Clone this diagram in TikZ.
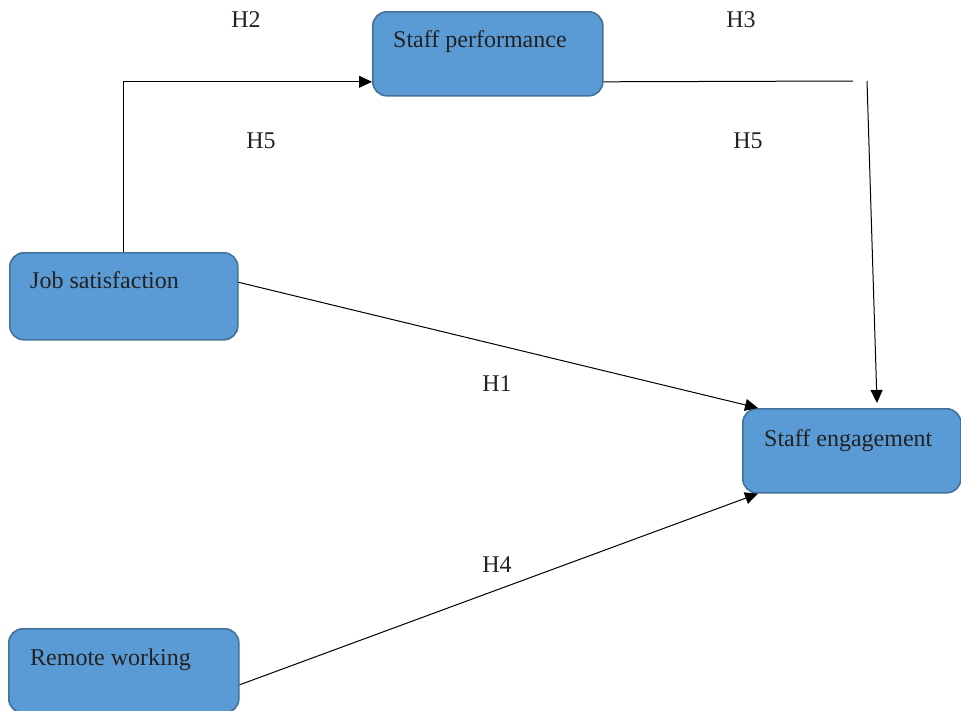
\documentclass[tikz,border=0pt]{standalone}
\usepackage{fontspec}
\setmainfont{Liberation Serif}
\usetikzlibrary{arrows.meta,calc}
\definecolor{boxfill}{HTML}{5B9BD5}
\definecolor{boxline}{HTML}{41719C}
\definecolor{inkcol}{HTML}{222222}

\begin{document}
\begin{tikzpicture}[x=1pt,y=-1pt,
  varbox/.style={draw=boxline, fill=boxfill, line width=1.6pt,
    rounded corners=14pt, inner sep=0pt, anchor=north west},
  boxtext/.style={anchor=base west, inner sep=0pt, text=inkcol,
    font=\fontsize{24}{28}\selectfont},
  hyp/.style={anchor=center, inner sep=0pt, text=inkcol,
    font=\fontsize{24}{28}\selectfont},
  conn/.style={draw=black, line width=1pt},
  arr/.style={conn, -{Triangle[length=13pt,width=12pt]}}
]
\useasboundingbox (0,0) rectangle (961,710);

% variable boxes
\node[varbox, minimum width=230pt, minimum height=84pt] (perf) at (372,11) {};
\node[varbox, minimum width=228pt, minimum height=87pt] (sat) at (9,252) {};
\node[varbox, minimum width=218pt, minimum height=84pt] (eng) at (742,408) {};
\node[varbox, minimum width=230pt, minimum height=84pt] (rem) at (8,628) {};

% box captions
\node[boxtext] (perfT) at ($(perf.north west)+(21,36)$) {Staff performance};
\node[boxtext] (satT)  at ($(sat.north west)+(21,36)$)  {Job satisfaction};
\node[boxtext] (engT)  at ($(eng.north west)+(22,38)$)  {Staff engagement};
\node[boxtext] (remT)  at ($(rem.north west)+(22,37)$)  {Remote working};

% hypothesis labels
\node[hyp] (h2)  at (246,20)  {H2};
\node[hyp] (h3)  at (741,20)  {H3};
\node[hyp] (h5a) at (261,141) {H5};
\node[hyp] (h5b) at (748,141) {H5};
\node[hyp] (h1)  at (497,384) {H1};
\node[hyp] (h4)  at (497,565) {H4};

% free ends of the broken mediation path
\coordinate (gapL) at (853,81);
\coordinate (gapR) at (867,81);

% connectors
\draw[arr] (sat.north) |- ($(perf.west)+(0,28)$);
\draw[conn] ($(perf.east)+(0,28)$) -- (gapL);
\draw[arr] (gapR) -- ($(eng.north west)+(135,-5)$);
\draw[arr] ($(sat.east)+(0,-14)$) -- ($(eng.north west)+(16,0)$);
\draw[arr] ($(rem.east)+(0,14)$) -- ($(eng.south west)+(16,0)$);
\end{tikzpicture}
\end{document}
